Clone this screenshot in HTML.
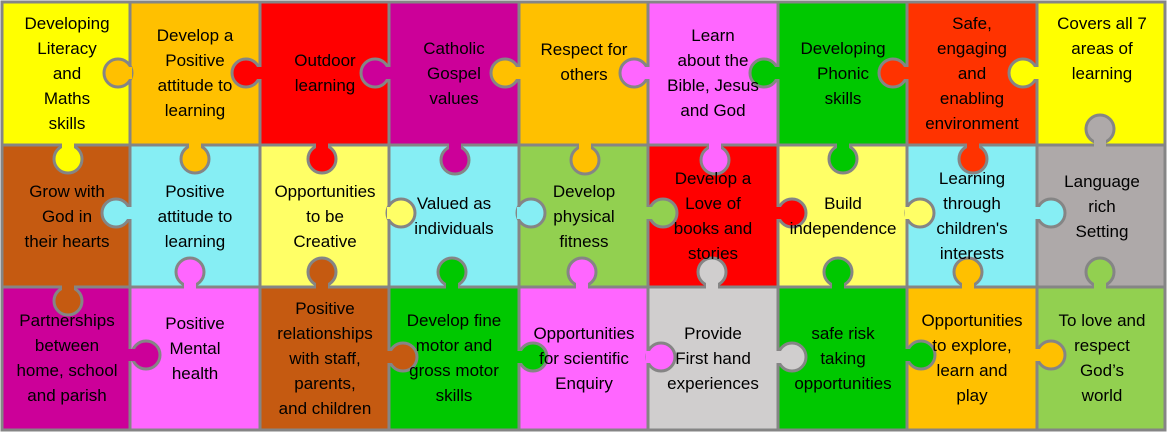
<!DOCTYPE html>
<html><head><meta charset="utf-8"><style>
body{margin:0;width:1167px;height:435px;overflow:hidden;background:#fff;position:relative;font-family:"Liberation Sans",sans-serif}
svg{position:absolute;left:0;top:0}
.t{position:absolute;width:130px;text-align:center;font-size:17px;line-height:25px;color:#000;display:flex;align-items:center;justify-content:center;height:140px}
</style></head><body>
<svg width="1167" height="435" id="s"></svg>
<script>
var xs=[2,130,260,389,519,648,778,907,1037,1165],ys=[2,145,287,430];
var C=[["#ffff00","#ffc000","#ff0000","#cc0099","#ffc000","#ff66ff","#00c800","#ff3300","#ffff00"],
["#c55a11","#86eef4","#ffff66","#86eef4","#92d050","#ff0000","#ffff66","#86eef4","#aea9a9"],
["#cc0099","#ff66ff","#c55a11","#00c800","#ff66ff","#d0cece","#00c800","#ffc000","#92d050"]];
var s='';
for(var r=0;r<3;r++)for(var c=0;c<9;c++)s+='<rect x="'+xs[c]+'" y="'+ys[r]+'" width="'+(xs[c+1]-xs[c])+'" height="'+(ys[r+1]-ys[r])+'" fill="'+C[r][c]+'" stroke="#858585" stroke-width="3"/>';
var K=[[118,73,"#ffc000"],[246,73,"#ff0000"],[375,73,"#cc0099"],[505,73,"#ffc000"],[634,73,"#ff66ff"],[764,73,"#00c800"],[893,73,"#ff3300"],[1023,73,"#ffff00"],
[68,159,"#ffff00"],[195,159,"#ffc000"],[322,159,"#ff0000"],[455,160,"#cc0099"],[585,160,"#ffc000"],[715,160,"#ff66ff"],[843,159,"#00c800"],[973,159,"#ff3300"],[1100,129,"#aea9a9"],
[116,213,"#86eef4"],[401,213,"#ffff66"],[531,213,"#86eef4"],[663,213,"#92d050"],[792,213,"#ff0000"],[920,213,"#ffff66"],[1051,213,"#86eef4"],
[68,301,"#c55a11"],[190,272,"#ff66ff"],[322,272,"#c55a11"],[452,272,"#00c800"],[582,272,"#ff66ff"],[712,272,"#d0cece"],[838,272,"#00c800"],[968,272,"#ffc000"],[1100,272,"#92d050"],
[146,355,"#cc0099"],[403,357,"#c55a11"],[533,357,"#00c800"],[661,357,"#ff66ff"],[792,357,"#d0cece"],[921,355,"#00c800"],[1051,355,"#ffc000"]];
K.forEach(function(k){s+='<circle cx="'+k[0]+'" cy="'+k[1]+'" r="14" fill="'+k[2]+'" stroke="#858585" stroke-width="3"/>';});
K.forEach(function(k){
 var horiz=[73,213,355,357].indexOf(k[1])>=0;
 if(horiz){
  var b=null;for(var i=0;i<10;i++)if(Math.abs(xs[i]-k[0])<20)b=xs[i];
  var x0=Math.min(b,k[0]),w=Math.abs(b-k[0]);
  s+='<rect x="'+(x0-2)+'" y="'+(k[1]-6)+'" width="'+(w+4)+'" height="12" fill="'+k[2]+'"/>';
 }else{
  var b=null;for(var i=0;i<4;i++)if(Math.abs(ys[i]-k[1])<20)b=ys[i];
  var y0=Math.min(b,k[1]),h=Math.abs(b-k[1]);
  s+='<rect x="'+(k[0]-6)+'" y="'+(y0-2)+'" width="12" height="'+(h+4)+'" fill="'+k[2]+'"/>';
 }
});
document.getElementById('s').innerHTML=s;
</script>
<div class="t" style="left:2px;top:3px">Developing<br>Literacy<br>and<br>Maths<br>skills</div>
<div class="t" style="left:130px;top:3px">Develop a<br>Positive<br>attitude to<br>learning</div>
<div class="t" style="left:260px;top:3px">Outdoor<br>learning</div>
<div class="t" style="left:389px;top:3px">Catholic<br>Gospel<br>values</div>
<div class="t" style="left:519px;top:3px;height:140px"><span style="margin-top:-22px">Respect for<br>others</span></div>
<div class="t" style="left:648px;top:3px">Learn<br>about the<br>Bible, Jesus<br>and God</div>
<div class="t" style="left:778px;top:3px">Developing<br>Phonic<br>skills</div>
<div class="t" style="left:907px;top:3px">Safe,<br>engaging<br>and<br>enabling<br>environment</div>
<div class="t" style="left:1037px;top:3px"><span style="margin-top:-50px">Covers all 7<br>areas of<br>learning</span></div>
<div class="t" style="left:2px;top:146px">Grow with<br>God in<br>their hearts</div>
<div class="t" style="left:130px;top:146px">Positive<br>attitude to<br>learning</div>
<div class="t" style="left:260px;top:146px">Opportunities<br>to be<br>Creative</div>
<div class="t" style="left:389px;top:146px">Valued as<br>individuals</div>
<div class="t" style="left:519px;top:146px">Develop<br>physical<br>fitness</div>
<div class="t" style="left:648px;top:146px">Develop a<br>Love of<br>books and<br>stories</div>
<div class="t" style="left:778px;top:146px">Build<br>independence</div>
<div class="t" style="left:907px;top:146px">Learning<br>through<br>children's<br>interests</div>
<div class="t" style="left:1037px;top:146px"><span style="margin-top:-20px">Language<br>rich<br>Setting</span></div>
<div class="t" style="left:2px;top:288px">Partnerships<br>between<br>home, school<br>and parish</div>
<div class="t" style="left:130px;top:288px"><span style="margin-top:-20px">Positive<br>Mental<br>health</span></div>
<div class="t" style="left:260px;top:288px">Positive<br>relationships<br>with staff,<br>parents,<br>and children</div>
<div class="t" style="left:389px;top:288px">Develop fine<br>motor and<br>gross motor<br>skills</div>
<div class="t" style="left:519px;top:288px">Opportunities<br>for scientific<br>Enquiry</div>
<div class="t" style="left:648px;top:288px">Provide<br>First hand<br>experiences</div>
<div class="t" style="left:778px;top:288px">safe risk<br>taking<br>opportunities</div>
<div class="t" style="left:907px;top:288px">Opportunities<br>to explore,<br>learn and<br>play</div>
<div class="t" style="left:1037px;top:288px">To love and<br>respect<br>God’s<br>world</div>
</body></html>
